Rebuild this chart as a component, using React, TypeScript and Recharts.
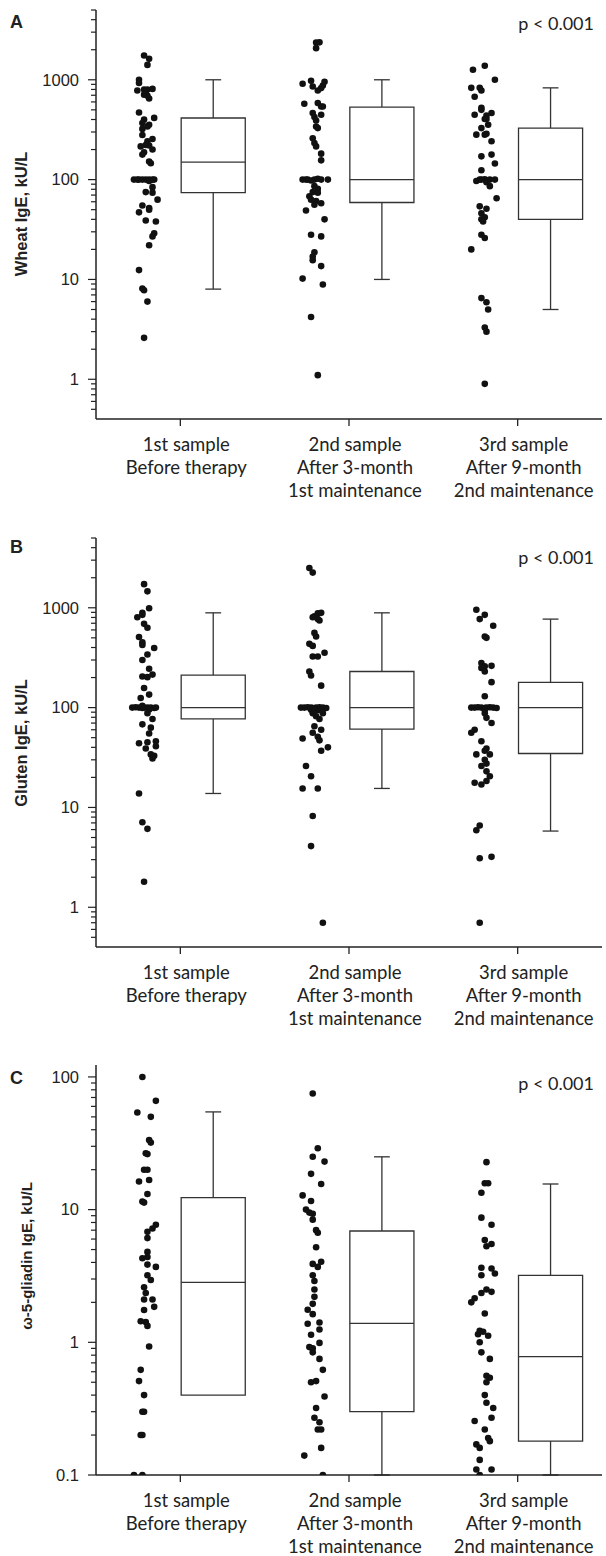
import { ComposedChart, XAxis, YAxis, Scatter, ReferenceArea, ReferenceLine } from "recharts"

// x axis labels, one entry per sample
const CATEGORIES = [
  ["1st sample", "Before therapy"],
  ["2nd sample", "After 3-month", "1st maintenance"],
  ["3rd sample", "After 9-month", "2nd maintenance"],
]

// each dot: [IgE kU/L, horizontal jitter in category widths]
type Dot = [number, number]

const WHEAT_1: Dot[] = [
  [1750, -0.01], [1620, 0.02], [1410, 0.01], [1000, -0.04], [930, -0.04], [780, -0.05], [800, -0.01],
  [800, 0.01], [810, 0.04], [760, 0], [710, -0.01], [690, 0.01], [650, 0.02],
  [470, -0.04], [415, 0.05], [400, -0.01], [369, -0.02], [355, 0.02], [322, -0.02], [340, 0.01],
  [280, -0.02], [255, 0.04], [242, 0.01], [215, -0.03], [222, 0], [220, 0.02], [200, 0.04],
  [188, -0.01], [178, -0.02], [152, 0.02], [146, 0.03],
  [100, -0.07], [100, -0.05], [100, -0.04], [100, -0.02], [100, 0], [100, 0.02], [100, 0.04], [100, 0.05], [97, 0.02],
  [84, 0.04], [75, 0], [74, 0.04], [63, 0.07], [55, -0.02], [52, 0.02], [50, 0.02], [47, -0.04],
  [39, 0], [38, 0.06], [29, 0.05], [27, 0.04], [22, 0.02], [12.4, -0.04], [8.1, -0.02], [7.8, -0.01],
  [6, 0.01], [2.6, -0.01],
]
const WHEAT_2: Dot[] = [
  [2360, 0.01], [2370, 0.03], [2075, 0.01], [912, -0.07], [977, -0.02], [855, -0.01], [955, 0.06],
  [875, 0.05], [825, 0.04], [780, 0.02],
  [575, -0.06], [585, 0.02], [540, 0.04], [540, 0.05], [465, -0.01], [447, 0.04], [423, 0], [391, 0.01],
  [340, 0.01], [328, 0.02], [260, -0.01], [233, 0], [215, 0.01], [182, 0.04], [156, 0.04],
  [100, -0.07], [100, -0.05], [100, -0.04], [98, -0.02], [100, 0], [102, 0.02], [100, 0.04], [100, 0.08],
  [86, 0], [81, 0.02], [75, -0.01], [74, 0.02], [68, -0.03], [63, -0.02], [61, 0.01], [58, 0.04],
  [49, -0.05], [56, 0], [40, 0.06], [28, -0.02], [27, 0.04], [18.7, 0], [17, -0.01], [15.6, -0.01],
  [13.6, 0.04], [10.2, -0.07], [8.9, 0.05], [4.2, -0.02], [1.1, 0.02],
]
const WHEAT_3: Dot[] = [
  [1260, -0.06], [1380, 0.01], [1000, 0.07], [830, -0.07], [830, -0.02], [780, -0.01], [675, -0.05],
  [525, -0.01], [500, -0.01], [465, 0.05], [447, -0.05], [437, 0.02], [405, 0.02], [405, 0.01], [355, 0.03],
  [328, -0.01], [282, -0.04], [282, 0.01], [288, 0.02], [242, 0.05], [171, -0.01], [178, 0.05],
  [145, 0.07], [124, -0.01],
  [97, -0.04], [100, -0.02], [100, -0.01], [101, 0.01], [98, 0.02], [100, 0.04], [100, 0.07], [86, 0.04], [94, 0.02],
  [65, 0.08], [54, -0.02], [51, 0.02], [46, -0.01], [42, 0.01], [40, -0.01], [38, 0], [28, -0.01],
  [26, 0.01], [20, -0.07], [6.5, -0.01], [5.9, 0.02], [5, 0.03], [3.3, 0.01], [3, 0.02], [0.9, 0.01],
]

const GLUTEN_1: Dot[] = [
  [1725, -0.01], [1460, 0.01], [990, 0.02], [890, -0.02], [850, -0.02], [805, -0.05], [690, -0.01],
  [630, 0.01], [510, -0.04], [450, -0.02], [425, -0.02], [395, 0.05], [340, 0.01], [300, -0.02],
  [245, 0.02], [205, -0.02], [202, 0.01], [214, 0.04], [157, -0.01], [135, 0.02], [125, -0.03],
  [100, -0.08], [101, -0.06], [100, -0.04], [99, -0.02], [100, -0.01], [100, 0.01], [100, 0.03],
  [99, 0.05], [100, 0.06], [104, -0.02], [96, 0.02],
  [88, 0.01], [77, 0.04], [68, -0.02], [63, 0.03], [55, 0.02], [44, -0.04], [45, 0.01], [46, 0.06],
  [39, 0], [41, 0.06], [34, 0.03], [33, 0.05], [31, 0.04], [13.8, -0.04], [7.1, -0.02], [6.1, 0.01],
  [1.8, -0.01],
]
const GLUTEN_2: Dot[] = [
  [2500, -0.03], [2250, -0.01], [820, 0], [880, 0.02], [890, 0.04], [805, -0.01], [770, 0.02],
  [745, 0.03], [560, 0], [515, 0.01], [435, -0.03], [415, -0.01], [325, -0.01], [325, 0.02],
  [355, 0.06], [230, -0.03], [210, -0.02], [166, 0.04],
  [100, -0.08], [100, -0.06], [101, -0.04], [100, -0.02], [99, -0.01], [100, 0.01], [101, 0.03],
  [100, 0.05], [99, 0.07], [95, -0.02], [94, 0.02], [96, 0],
  [88, -0.01], [88, 0.05], [82, 0.01], [77, 0.03], [65, 0], [60, 0.04], [56, -0.01], [51, 0.02],
  [47, 0.03], [49, -0.07], [40, 0.08], [37, 0.04], [26, -0.05], [20.5, -0.02], [15.5, -0.07],
  [15.5, 0.02], [8.2, -0.01], [4.1, -0.02], [0.7, 0.05],
]
const GLUTEN_3: Dot[] = [
  [955, -0.04], [850, 0.01], [770, -0.02], [660, 0.06], [515, 0.01], [500, 0.02], [280, -0.01],
  [260, 0.01], [262, 0.05], [250, -0.01], [230, 0.01], [180, 0.05], [130, 0.01],
  [100, -0.07], [100, -0.05], [101, -0.03], [100, -0.01], [99, 0.01], [100, 0.02], [101, 0.04],
  [100, 0.06], [99, 0.08], [95, 0.01],
  [88, 0.01], [79, 0.02], [70, 0.05], [60, -0.05], [56, -0.07], [46, -0.01], [39, 0.02], [37, 0.01],
  [34, -0.04], [34, 0.04], [30, 0.01], [26, -0.01], [27.5, 0.02], [23, 0.02], [20.5, 0.04],
  [17.7, -0.05], [17, -0.01], [18.4, 0.02], [6.6, -0.02], [5.9, -0.04], [3.1, -0.02], [3.2, 0.05],
  [0.7, -0.02],
]

const OMEGA_1: Dot[] = [
  [100, -0.02], [66, 0.06], [54, -0.05], [50, 0.03], [33.5, 0.02], [32, 0.03], [26.6, 0], [26.2, 0.01],
  [20, -0.01], [20, 0.01], [16.3, -0.04], [16.7, 0.02], [13.1, 0.01], [11.5, -0.02], [11.3, -0.01],
  [7.7, 0.06], [7.2, 0.04], [6.8, 0.01], [6.1, 0.01], [4.8, 0.01], [4.4, 0.01], [4.3, -0.02],
  [3.85, 0.01], [3.7, 0.06], [3.2, 0.01], [2.95, 0.03], [2.6, -0.01], [2.35, 0], [2.1, -0.01],
  [2.1, 0.04], [1.85, 0.05], [1.75, -0.01], [1.44, -0.03], [1.42, 0], [1.33, 0.01], [0.93, 0.02],
  [0.62, -0.03], [0.51, -0.04], [0.4, -0.01], [0.3, -0.02], [0.3, -0.01], [0.2, -0.03], [0.2, -0.02],
  [0.1, -0.07], [0.1, -0.02],
]
const OMEGA_2: Dot[] = [
  [75, -0.01], [29, 0.02], [25, -0.01], [23, 0.06], [18.6, -0.02], [15.6, 0.04], [12.8, -0.07],
  [11.6, -0.02], [10, -0.05], [9.5, -0.03], [9.3, -0.01], [8.4, -0.01], [7, 0.01], [6.7, 0.02],
  [5.2, 0.01], [3.9, -0.01], [4.05, 0.04], [3.7, 0.02], [3.2, -0.01], [2.9, 0], [2.5, 0], [2.2, 0],
  [1.95, -0.01], [1.76, -0.04], [1.63, -0.01], [1.38, -0.04], [1.41, 0.03], [1.14, -0.02], [1.25, 0.03],
  [0.92, -0.03], [0.9, -0.01], [0.99, 0.03], [0.84, -0.01], [0.75, 0.03], [0.62, 0.05], [0.5, -0.02],
  [0.51, 0.01], [0.39, 0.06], [0.32, 0.01], [0.27, 0], [0.25, 0.03], [0.22, 0.02], [0.22, 0.04],
  [0.16, 0.04], [0.14, -0.06], [0.1, 0.05],
]
const OMEGA_3: Dot[] = [
  [22.8, 0.02], [15.8, 0.01], [15.8, 0.03], [13.4, -0.01], [8.7, -0.01], [7.7, 0.05], [5.9, 0.01],
  [5.5, 0.05], [5.3, 0.02], [3.65, -0.01], [3.6, 0.05], [3.3, 0.07], [3.2, -0.01], [2.35, -0.01],
  [2.4, 0.05], [2.5, 0.02], [2.15, -0.05], [2, -0.07], [1.65, 0.01], [1.22, -0.02], [1.15, -0.03],
  [1.2, 0], [1.12, 0.03], [1, -0.02], [0.84, -0.01], [0.75, 0.04], [0.56, 0.02], [0.54, 0.04],
  [0.5, 0.02], [0.4, 0.01], [0.35, 0.02], [0.32, 0.06], [0.27, 0.05], [0.255, -0.05], [0.22, 0.01],
  [0.19, 0.03], [0.18, 0.04], [0.17, -0.04], [0.16, -0.02], [0.13, -0.02], [0.11, -0.04], [0.11, 0.05],
  [0.1, -0.02],
]

// box plot stats per sample: [min, q1, median, q3, max]
const WHEAT_BOXES = [[8, 74, 150, 414, 1000], [10, 59, 100, 533, 1000], [5, 40, 100, 328, 830]]
const GLUTEN_BOXES = [[13.8, 77, 100, 212, 890], [15.5, 61, 100, 230, 890], [5.8, 34.7, 100, 179, 770]]
const OMEGA_BOXES = [[0.4, 0.4, 2.83, 12.3, 54.5], [0.1, 0.3, 1.39, 6.9, 25], [0.1, 0.18, 0.78, 3.2, 15.6]]

// log axis ticks: labelled decades plus unlabelled minors
const WHEAT_TICKS = [0.5, 0.6, 0.7, 0.8, 0.9, 1, 2, 3, 4, 5, 6, 7, 8, 9, 10, 20, 30, 40, 50, 60, 70, 80, 90,
  100, 200, 300, 400, 500, 600, 700, 800, 900, 1000, 2000, 3000, 4000, 5000]
const OMEGA_TICKS = [0.1, 0.2, 0.3, 0.4, 0.5, 0.6, 0.7, 0.8, 0.9, 1, 2, 3, 4, 5, 6, 7, 8, 9, 10,
  20, 30, 40, 50, 60, 70, 80, 90, 100]

const INK = "#222"
const BOX_INK = "#333"
const DOT_SHIFT = -0.205
const BOX_SHIFT = 0.195
const BOX_HALF = 0.19
const CAP_HALF = 0.047
const SANS = "'Liberation Sans', Arial, sans-serif"
const LABEL_FONT = "Lato, 'Open Sans', sans-serif"

function isDecade(v: number) {
  const l = Math.log10(v)
  return Math.abs(l - Math.round(l)) < 1e-6
}

function LogTick(props: any) {
  const { x, y, payload } = props
  const major = isDecade(payload.value)
  return (
    <g>
      <line x1={x - (major ? 8 : 5)} y1={y} x2={x} y2={y} stroke={INK} strokeWidth={1.2} />
      {major && (
        <text x={x - 17} y={y} dy={5.8} textAnchor="end" fontFamily={SANS} fontSize={16.5} fill={INK}>
          {payload.value}
        </text>
      )}
    </g>
  )
}

function CategoryTick(props: any) {
  const { x, y, payload } = props
  const lines = CATEGORIES[Math.floor(payload.value)]
  return (
    <text x={x + 6} y={y} textAnchor="middle" fontFamily={LABEL_FONT} fontSize={18.5} fill={INK}>
      {lines.map((line, i) => (
        <tspan key={line} x={x + 6} dy={i === 0 ? 25 : 23}>{line}</tspan>
      ))}
    </text>
  )
}

const DotShape = (p: any) => <circle cx={p.cx} cy={p.cy} r={3.3} fill="#111" />

function Box({ stats, index }: { stats: number[]; index: number }) {
  const [min, q1, med, q3, max] = stats
  const c = index + 0.5 + BOX_SHIFT
  const line = { stroke: BOX_INK, strokeWidth: 1.3, ifOverflow: "visible" as const }
  return (
    <>
      <ReferenceLine {...line} segment={[{ x: c, y: q3 }, { x: c, y: max }]} />
      <ReferenceLine {...line} segment={[{ x: c - CAP_HALF, y: max }, { x: c + CAP_HALF, y: max }]} />
      {min < q1 && <ReferenceLine {...line} segment={[{ x: c, y: min }, { x: c, y: q1 }]} />}
      {min < q1 && <ReferenceLine {...line} segment={[{ x: c - CAP_HALF, y: min }, { x: c + CAP_HALF, y: min }]} />}
      <ReferenceArea x1={c - BOX_HALF} x2={c + BOX_HALF} y1={q1} y2={q3} fill="#fff" fillOpacity={1}
        stroke={BOX_INK} strokeWidth={1.3} ifOverflow="visible" />
      <ReferenceLine {...line} segment={[{ x: c - BOX_HALF, y: med }, { x: c + BOX_HALF, y: med }]} />
    </>
  )
}

interface PanelProps {
  top: number
  height: number
  plotTop: number
  plotHeight: number
  domain: [number, number]
  ticks: number[]
  dots: Dot[][]
  boxes: number[][]
  letter: string
  letterY: number
  pY: number
  title: string
  titleSize: number
  titleX: number
  titleY: number
}

function Panel(p: PanelProps) {
  const xAxisH = 60
  return (
    <div style={{ position: "absolute", left: 0, top: p.top, width: 606, height: p.height }}>
      <ComposedChart width={606} height={p.height}
        margin={{ top: p.plotTop, right: 4, left: 0, bottom: p.height - p.plotTop - p.plotHeight - xAxisH }}>
        <XAxis type="number" dataKey="x" domain={[0, 3]} ticks={[0.5, 1.5, 2.5]} interval={0}
          height={xAxisH} tickSize={7} tickMargin={0} allowDataOverflow
          axisLine={{ stroke: INK, strokeWidth: 1.5 }} tickLine={{ stroke: INK, strokeWidth: 1.3 }}
          tick={<CategoryTick />} />
        <YAxis type="number" dataKey="y" scale="log" domain={p.domain} allowDataOverflow ticks={p.ticks}
          interval={0} width={96} tickSize={0} tickMargin={0} tickLine={false}
          axisLine={{ stroke: INK, strokeWidth: 1.5 }} tick={<LogTick />} />
        {p.boxes.map((b, i) => <Box key={"b" + i} stats={b} index={i} />)}
        {p.dots.map((g, i) => (
          <Scatter key={"s" + i} data={g.map(([v, j]) => ({ x: i + 0.5 + DOT_SHIFT + j, y: v }))}
            dataKey="y" shape={DotShape} isAnimationActive={false} />
        ))}
      </ComposedChart>
      <svg width={606} height={p.height} style={{ position: "absolute", left: 0, top: 0, pointerEvents: "none" }}>
        <text x={10} y={p.letterY} fontFamily={SANS} fontWeight="bold" fontSize={18} fill={INK}>{p.letter}</text>
        <text x={594} y={p.pY} textAnchor="end" fontFamily={LABEL_FONT} fontSize={18} fill={INK}>p &lt; 0.001</text>
        <text x={p.titleX} y={p.titleY} transform={`rotate(-90 ${p.titleX} ${p.titleY})`} textAnchor="middle"
          fontFamily={SANS} fontWeight="bold" fontSize={p.titleSize} fill={INK}>{p.title}</text>
      </svg>
    </div>
  )
}

export default function App() {
  return (
    <div style={{ position: "absolute", left: 0, top: 0, width: 606, height: 1556, background: "#fff" }}>
      <Panel top={0} height={528} plotTop={10} plotHeight={409} domain={[0.4, 5000]} ticks={WHEAT_TICKS}
        dots={[WHEAT_1, WHEAT_2, WHEAT_3]} boxes={WHEAT_BOXES} letter="A" letterY={28} pY={30}
        title="Wheat IgE, kU/L" titleSize={16.5} titleX={27} titleY={214} />
      <Panel top={528} height={528} plotTop={10} plotHeight={409} domain={[0.4, 5000]} ticks={WHEAT_TICKS}
        dots={[GLUTEN_1, GLUTEN_2, GLUTEN_3]} boxes={GLUTEN_BOXES} letter="B" letterY={25} pY={36}
        title="Gluten IgE, kU/L" titleSize={16.5} titleX={27} titleY={215} />
      <Panel top={1056} height={500} plotTop={9} plotHeight={410} domain={[0.1, 123]} ticks={OMEGA_TICKS}
        dots={[OMEGA_1, OMEGA_2, OMEGA_3]} boxes={OMEGA_BOXES} letter="C" letterY={28} pY={34}
        title="ω-5-gliadin IgE, kU/L" titleSize={15} titleX={32} titleY={200} />
    </div>
  )
}
